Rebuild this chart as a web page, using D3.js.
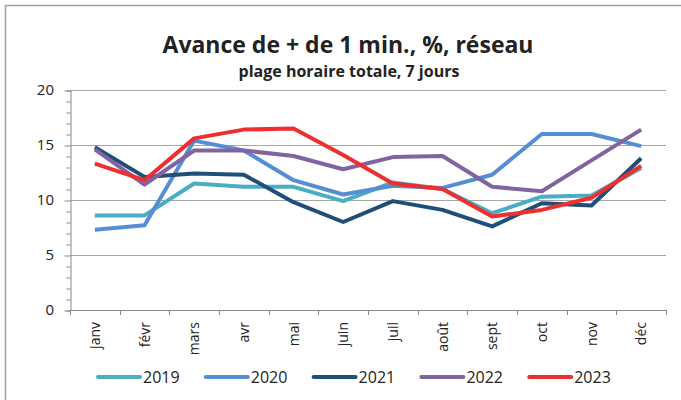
<!DOCTYPE html>
<html>
<meta charset="utf-8">
<style>
  body { margin: 0; background: #fff; }
  text { font-family: "Open Sans", sans-serif; fill: #222; }
</style>
<body>
<div id="chart"></div>
<script src="https://cdn.jsdelivr.net/npm/d3@7"></script>
<script>
  "use strict";

  // months along the x axis
  var months = ["janv", "févr", "mars", "avr", "mai", "juin", "juil", "août", "sept", "oct", "nov", "déc"];
  var years = ["2019", "2020", "2021", "2022", "2023"];
  var colors = ["#4bacc6", "#558ed5", "#1f4e79", "#8064a2", "#ee2f2f"];

  // values, one list per year
  var v2019 = [8.6, 8.6, 11.5, 11.2, 11.2, 9.9, 11.6, 11.0, 8.8, 10.3, 10.4, 12.9];
  var v2020 = [7.3, 7.7, 15.4, 14.5, 11.8, 10.5, 11.3, 11.1, 12.3, 16.0, 16.0, 14.9];
  var v2021 = [14.8, 12.1, 12.4, 12.3, 9.8, 8.0, 9.9, 9.1, 7.6, 9.7, 9.5, 13.8];
  var v2022 = [14.6, 11.4, 14.5, 14.5, 14.0, 12.8, 13.9, 14.0, 11.2, 10.8, 13.6, 16.4];
  var v2023 = [13.3, 11.8, 15.6, 16.4, 16.5, 14.1, 11.5, 11.0, 8.5, 9.1, 10.2, 13.1];
  var series = [v2019, v2020, v2021, v2022, v2023];
  var yTicks = [0, 5, 10, 15, 20];

  var W = 681, H = 400;
  var pLeft = 70, pRight = 666, pTop = 90, pBottom = 310;

  var svg = d3.select("#chart").append("svg").attr("width", W).attr("height", H);

  // outer frame
  svg.append("rect")
    .attr("x", 5.5).attr("y", 5.5).attr("width", W + 10).attr("height", H + 10)
    .attr("fill", "none").attr("stroke", "#a0a0a0").attr("stroke-width", 1.5);

  var x = d3.scaleBand().domain(months).range([pLeft, pRight]);
  var y = d3.scaleLinear().domain([0, 20]).range([pBottom, pTop]);

  // gridlines
  svg.selectAll("line.grid")
    .data(yTicks.filter(function (d) { return d > 0; }))
    .enter().append("line")
    .attr("x1", pLeft).attr("x2", pRight)
    .attr("y1", function (d) { return Math.round(y(d)) + 0.5; })
    .attr("y2", function (d) { return Math.round(y(d)) + 0.5; })
    .attr("stroke", "#a6a6a6").attr("stroke-width", 1);

  // y axis with minor ticks each unit
  var yAxis = svg.append("g").attr("transform", "translate(" + (pLeft + 0.5) + ",0.5)")
    .call(d3.axisLeft(y).tickValues(d3.range(0, 21, 1)).tickSize(4).tickFormat(""));
  yAxis.select(".domain").attr("stroke", "#888");
  yAxis.selectAll(".tick line").attr("stroke", "#888")
    .attr("x2", function (d) { return d % 5 === 0 ? -6 : -4; });

  svg.selectAll("text.ylab")
    .data(yTicks)
    .enter().append("text")
    .attr("x", 54).attr("y", function (d) { return y(d) + 5; })
    .attr("text-anchor", "end")
    .style("font-size", "15px")
    .text(function (d) { return d; });

  // x axis with ticks at band boundaries
  var xg = svg.append("g");
  xg.append("line").attr("x1", pLeft).attr("x2", pRight)
    .attr("y1", pBottom + 0.5).attr("y2", pBottom + 0.5).attr("stroke", "#888");
  xg.selectAll("line.tk")
    .data(d3.range(0, months.length + 1))
    .enter().append("line")
    .attr("x1", function (i) { return Math.round(pLeft + i * x.step()) + 0.5; })
    .attr("x2", function (i) { return Math.round(pLeft + i * x.step()) + 0.5; })
    .attr("y1", pBottom).attr("y2", pBottom + 5)
    .attr("stroke", "#888");

  xg.selectAll("text.xlab")
    .data(months)
    .enter().append("text")
    .attr("transform", function (d) {
      return "translate(" + (x(d) + x.bandwidth() / 2 + 5) + "," + (pBottom + 12) + ") rotate(-90)";
    })
    .attr("text-anchor", "end")
    .style("font-size", "14px")
    .text(function (d) { return d; });

  // the lines
  var line = d3.line()
    .x(function (d, i) { return x(months[i]) + x.bandwidth() / 2; })
    .y(function (d) { return y(d); });

  svg.selectAll("path.series")
    .data(series)
    .enter().append("path")
    .attr("d", line)
    .attr("fill", "none")
    .attr("stroke", function (d, i) { return colors[i]; })
    .attr("stroke-width", 4)
    .attr("stroke-linejoin", "round");

  // titles
  svg.append("text")
    .attr("x", 348).attr("y", 53)
    .attr("text-anchor", "middle")
    .style("font-size", "23px").style("font-weight", "bold")
    .text("Avance de + de 1 min., %, réseau");
  svg.append("text")
    .attr("x", 349).attr("y", 77)
    .attr("text-anchor", "middle")
    .style("font-size", "16px").style("font-weight", "bold")
    .text("plage horaire totale, 7 jours");

  // legend
  var leg = svg.selectAll("g.leg")
    .data(years)
    .enter().append("g")
    .attr("transform", function (d, i) { return "translate(" + (98 + i * 107.8) + ",377)"; });
  leg.append("line")
    .attr("x1", 0).attr("x2", 42)
    .attr("stroke", function (d, i) { return colors[i]; })
    .attr("stroke-width", 4).attr("stroke-linecap", "round");
  leg.append("text")
    .attr("x", 45).attr("y", 6)
    .style("font-size", "16px")
    .text(function (d) { return d; });
</script>
</body>
</html>
